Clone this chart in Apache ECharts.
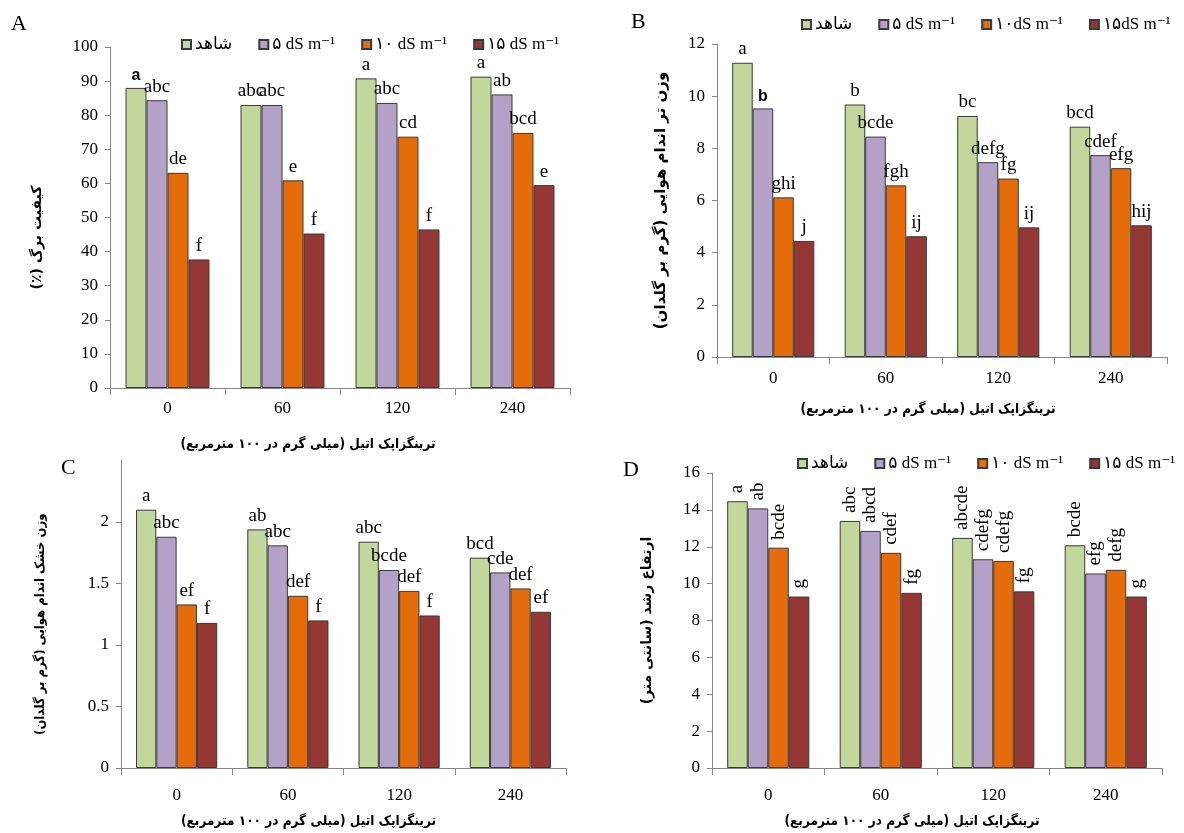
<!DOCTYPE html>
<html><head><meta charset="utf-8">
<script src="https://cdn.jsdelivr.net/npm/echarts@6/dist/echarts.min.js"></script>
<style>html,body{margin:0;padding:0;background:#fff}#c{width:1184px;height:833px}</style>
</head><body><div id="c"></div>
<script>
// ---------- data ----------
const categories = ['0', '60', '120', '240'];
const namesACD = ['شاهد', '۵ dS m⁻¹', '۱۰ dS m⁻¹', '۱۵ dS m⁻¹'];
const namesB = ['شاهد', '۵ dS m⁻¹', '۱۰dS m⁻¹', '۱۵dS m⁻¹'];

// A: leaf quality (%)
const A_control = [88.0, 83.0, 90.8, 91.3];
const A_s5 = [84.4, 83.0, 83.6, 86.1];
const A_s10 = [63.1, 60.9, 73.7, 74.8];
const A_s15 = [37.7, 45.3, 46.5, 59.5];
const A_letters = [['a', 'abc', 'a', 'a'], ['abc', 'abc', 'abc', 'ab'], ['de', 'e', 'cd', 'bcd'], ['f', 'f', 'f', 'e']];

// B: shoot fresh weight (g/pot)
const B_control = [11.28, 9.68, 9.24, 8.83];
const B_s5 = [9.53, 8.45, 7.47, 7.74];
const B_s10 = [6.12, 6.58, 6.84, 7.24];
const B_s15 = [4.45, 4.63, 4.97, 5.05];
const B_letters = [['a', 'b', 'bc', 'bcd'], ['b', 'bcde', 'defg', 'cdef'], ['ghi', 'fgh', 'fg', 'efg'], ['j', 'ij', 'ij', 'hij']];

// C: shoot dry weight (g/pot)
const C_control = [2.10, 1.94, 1.84, 1.71];
const C_s5 = [1.88, 1.81, 1.61, 1.59];
const C_s10 = [1.33, 1.40, 1.44, 1.46];
const C_s15 = [1.18, 1.20, 1.24, 1.27];
const C_letters = [['a', 'ab', 'abc', 'bcd'], ['abc', 'abc', 'bcde', 'cde'], ['ef', 'def', 'def', 'def'], ['f', 'f', 'f', 'ef']];

// D: growth height (cm)
const D_control = [14.47, 13.40, 12.48, 12.08];
const D_s5 = [14.08, 12.86, 11.32, 10.55];
const D_s10 = [11.95, 11.67, 11.23, 10.75];
const D_s15 = [9.30, 9.50, 9.58, 9.30];
const D_letters = [['a', 'abc', 'abcde', 'bcde'], ['ab', 'abcd', 'cdefg', 'efg'], ['bcde', 'cdef', 'cdefg', 'defg'], ['g', 'fg', 'fg', 'g']];

// labels drawn in a sans-serif face in the original: [panel, series, category]
const sansLabels = [[0, 0, 0], [1, 1, 0]];

const xTitle = '\u200Fترینگزاپک اتیل (میلی گرم در ۱۰۰ مترمربع)\u200F';
const yTitles = [
  '\u200Fکیفیت برگ (٪)\u200F',
  '\u200Fوزن تر اندام هوایی (گرم بر گلدان)\u200F',
  '\u200Fوزن خشک اندام هوایی (گرم بر گلدان)\u200F',
  '\u200Fارتفاع رشد (سانتی متر)\u200F'
];

// ---------- styles ----------
const colors = ['#C3D69B', '#B3A2C7', '#E46C0A', '#953735'];
const SERIF = "'Liberation Serif', 'DejaVu Sans', serif";
const FA = "'DejaVu Sans', sans-serif";
const FA_C = "'DejaVu Sans Condensed', 'DejaVu Sans', sans-serif";
const axisGray = '#868686';

const panels = [
  {vals: [A_control, A_s5, A_s10, A_s15], letters: A_letters, names: namesACD, rot: false,
   grid: {left: 110, top: 47, width: 460, height: 341}, max: 100, interval: 10,
   labMargin: 12, xGap: 49, xPad: [0, 64, 0, 0], yGap: 66, yPad: [0, 40, 0, 0], yFont: 14, yFam: FA},
  {vals: [B_control, B_s5, B_s10, B_s15], letters: B_letters, names: namesB, rot: false,
   grid: {left: 717, top: 44, width: 450, height: 313}, max: 12, interval: 2,
   labMargin: 13, xGap: 45, xPad: [0, 28, 0, 0], yGap: 48, yPad: [0, 0, 0, 0], yFont: 15, yFam: FA},
  {vals: [C_control, C_s5, C_s10, C_s15], letters: C_letters, names: namesACD, rot: false,
   grid: {left: 121, top: 460.5, width: 445, height: 307.5}, max: 2.5, interval: 0.5,
   labMargin: 19, xGap: 46, xPad: [0, 70, 0, 0], yGap: 74, yPad: [0, 20, 0, 0], hideMax: true, yFont: 13, yFam: FA_C},
  {vals: [D_control, D_s5, D_s10, D_s15], letters: D_letters, names: namesACD, rot: true,
   grid: {left: 712, top: 473, width: 450, height: 295}, max: 16, interval: 2,
   labMargin: 19, xGap: 46, xPad: [0, 50, 0, 0], yGap: 58, yPad: [0, 0, 0, 0], yFont: 14, yFam: FA}
];

const grids = [], xAxes = [], yAxes = [], series = [];
panels.forEach((p, pi) => {
  grids.push(Object.assign({containLabel: false, outerBoundsMode: 'none'}, p.grid));
  xAxes.push({
    type: 'category', gridIndex: pi, data: categories,
    axisLine: {show: true, lineStyle: {color: axisGray, width: 1}},
    axisTick: {show: true, alignWithLabel: false, length: 7, lineStyle: {color: axisGray}},
    axisLabel: {margin: p.labMargin, fontSize: 17, color: '#000', fontFamily: SERIF},
    splitLine: {show: false},
    name: xTitle, nameLocation: 'middle', nameGap: p.xGap,
    nameTextStyle: {fontFamily: FA_C, fontWeight: 'bold', fontSize: 13.5, color: '#000', padding: p.xPad}
  });
  yAxes.push({
    type: 'value', gridIndex: pi, min: 0, max: p.max, interval: p.interval,
    axisLine: {show: true, lineStyle: {color: axisGray, width: 1}},
    axisTick: {show: true, length: 5, lineStyle: {color: axisGray}},
    axisLabel: {margin: 12, fontSize: 17, color: '#000', fontFamily: SERIF, showMaxLabel: !p.hideMax},
    splitLine: {show: false},
    name: yTitles[pi], nameLocation: 'middle', nameGap: p.yGap, nameRotate: 90,
    nameTextStyle: {fontFamily: p.yFam, fontWeight: 'bold', fontSize: p.yFont, color: '#000', padding: p.yPad}
  });
  p.vals.forEach((arr, si) => {
    const data = arr.map((v, ci) => {
      const item = {value: v, label: {formatter: p.letters[si][ci]}};
      if (sansLabels.some(s => s[0] === pi && s[1] === si && s[2] === ci)) {
        item.label.fontFamily = "'Liberation Sans', Arial, sans-serif";
        item.label.fontWeight = 'bold';
        item.label.fontSize = 16;
      }
      return item;
    });
    const label = p.rot
      ? {show: true, position: 'top', rotate: 90, align: 'left', verticalAlign: 'middle', distance: 8,
         fontFamily: SERIF, fontSize: 19, color: '#000'}
      : {show: true, position: 'top', distance: 4, fontFamily: SERIF, fontSize: 19, color: '#000'};
    series.push({
      type: 'bar', name: p.names[si], xAxisIndex: pi, yAxisIndex: pi, data: data,
      barGap: '0%', barCategoryGap: '27%',
      itemStyle: {color: colors[si], borderColor: '#3a3a3a', borderWidth: 1},
      label: label, emphasis: {disabled: true}, animation: false
    });
  });
});

const legendBase = {
  orient: 'horizontal', icon: 'rect', itemWidth: 9, itemHeight: 9, itemGap: 26,
  textStyle: {fontFamily: SERIF, fontSize: 17, color: '#000', padding: [0, 0, 0, -1]},
  selectedMode: false
};
const legends = [
  Object.assign({}, legendBase, {left: 176, top: 31, data: namesACD}),
  Object.assign({}, legendBase, {left: 796, top: 11, data: namesB}),
  Object.assign({}, legendBase, {left: 792, top: 450, data: namesACD})
];

const titleStyle = {fontFamily: SERIF, fontSize: 22, fontWeight: 'normal', color: '#000'};
const option = {
  backgroundColor: '#fff',
  animation: false,
  title: [
    {text: 'A', left: 6, top: 8, textStyle: titleStyle},
    {text: 'B', left: 626, top: 6, textStyle: titleStyle},
    {text: 'C', left: 56, top: 452, textStyle: titleStyle},
    {text: 'D', left: 618, top: 454, textStyle: titleStyle}
  ],
  legend: legends,
  grid: grids, xAxis: xAxes, yAxis: yAxes, series: series
};
const chart = echarts.init(document.getElementById('c'), null, {renderer: 'canvas'});
chart.setOption(option);
</script></body></html>
